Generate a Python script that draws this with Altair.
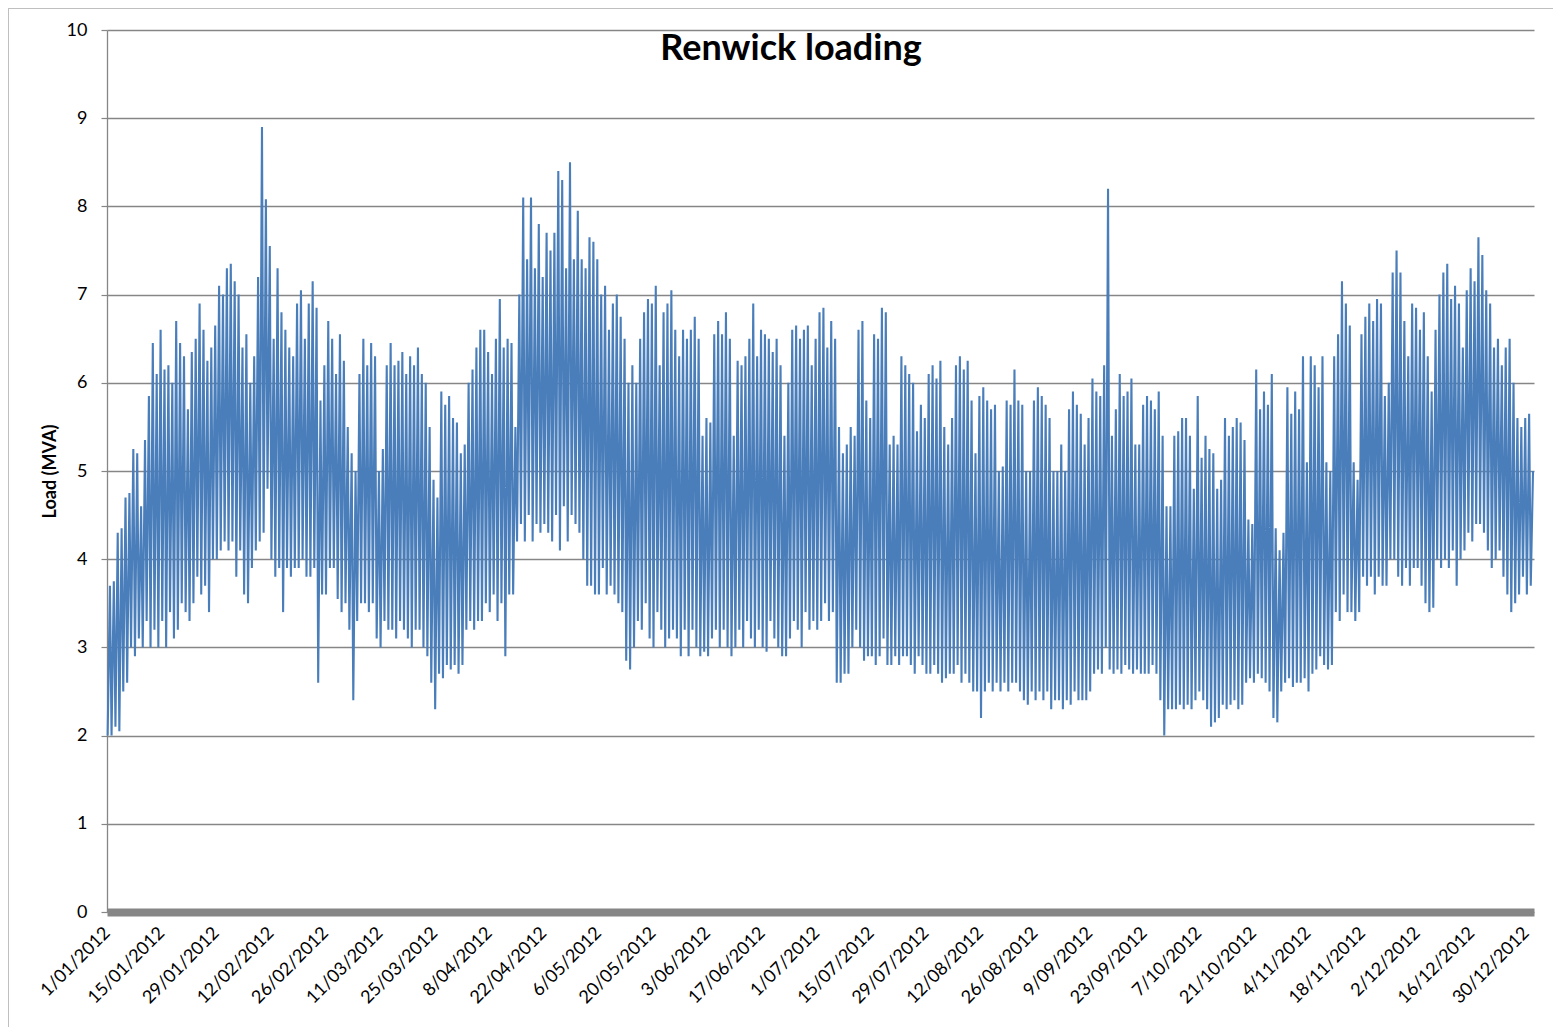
import altair as alt
import pandas as pd

# Daily evening peak load (MVA), 1 Jan 2012 .. 31 Dec 2012
daily_peak = [
    3.7, 3.75, 4.3, 4.35, 4.7, 4.75, 5.25,
    5.2, 4.6, 5.35, 5.85, 6.45, 6.1, 6.6,
    6.15, 6.2, 6.0, 6.7, 6.45, 6.3, 5.7,
    6.35, 6.5, 6.9, 6.6, 6.25, 6.4, 6.65,
    7.1, 7.0, 7.3, 7.35, 7.15, 7.0, 6.4,
    6.55, 6.0, 6.3, 7.2, 8.9, 8.08, 7.55,
    6.5, 7.3, 6.8, 6.6, 6.4, 6.3, 6.9,
    7.05, 6.5, 6.9, 7.15, 6.85, 5.8, 6.2,
    6.7, 6.5, 6.1, 6.55, 6.25, 5.5, 5.2,
    5.0, 6.1, 6.5, 6.2, 6.45, 6.3, 5.0,
    5.25, 6.2, 6.45, 6.2, 6.25, 6.35, 6.1,
    6.3, 6.2, 6.4, 6.1, 6.0, 5.5, 4.9,
    4.7, 5.9, 5.75, 5.85, 5.6, 5.55, 5.2,
    5.3, 6.0, 6.15, 6.4, 6.6, 6.6, 6.35,
    6.1, 6.5, 6.95, 6.4, 6.5, 6.45, 5.5,
    7.0, 8.1, 7.4, 8.1, 7.3, 7.8, 7.2,
    7.7, 7.5, 7.7, 8.4, 8.3, 7.3, 8.5,
    7.4, 7.95, 7.4, 7.3, 7.65, 7.6, 7.4,
    7.0, 7.1, 6.6, 6.9, 7.0, 6.75, 6.5,
    6.0, 6.2, 6.0, 6.5, 6.8, 6.95, 6.9,
    7.1, 6.2, 6.8, 6.9, 7.05, 6.6, 6.3,
    6.6, 6.5, 6.6, 6.75, 6.5, 5.4, 5.6,
    5.55, 6.55, 6.7, 6.55, 6.8, 6.5, 5.4,
    6.25, 6.2, 6.3, 6.5, 6.9, 6.3, 6.6,
    6.55, 6.5, 6.35, 6.5, 6.2, 5.4, 6.0,
    6.6, 6.65, 6.5, 6.6, 6.65, 6.2, 6.5,
    6.8, 6.85, 6.4, 6.7, 6.5, 5.5, 5.2,
    5.3, 5.5, 5.4, 6.6, 6.7, 5.8, 5.6,
    6.55, 6.5, 6.85, 6.8, 5.3, 5.4, 5.3,
    6.3, 6.2, 6.1, 6.0, 5.45, 5.75, 5.6,
    6.1, 6.2, 6.05, 6.25, 5.5, 5.3, 5.6,
    6.2, 6.3, 6.15, 6.25, 5.8, 5.2, 5.85,
    5.95, 5.8, 5.7, 5.75, 5.0, 5.05, 5.8,
    5.75, 6.15, 5.8, 5.75, 5.0, 5.0, 5.8,
    5.95, 5.85, 5.75, 5.6, 5.0, 5.0, 5.3,
    5.0, 5.7, 5.9, 5.75, 5.65, 5.3, 5.6,
    6.05, 5.9, 5.85, 6.2, 8.2, 5.4, 5.7,
    6.1, 5.85, 5.9, 6.05, 5.3, 5.3, 5.75,
    5.85, 5.8, 5.7, 5.9, 5.4, 4.6, 4.6,
    5.4, 5.45, 5.6, 5.6, 5.4, 4.8, 5.85,
    5.15, 5.4, 5.25, 5.2, 4.8, 4.9, 5.6,
    5.4, 5.5, 5.6, 5.55, 5.35, 4.45, 4.4,
    6.15, 5.7, 5.9, 5.75, 6.1, 4.35, 4.1,
    4.3, 5.95, 5.65, 5.9, 5.7, 6.3, 5.1,
    6.3, 6.2, 5.95, 6.3, 5.1, 5.0, 6.3,
    6.55, 7.15, 6.9, 6.65, 5.1, 4.9, 6.55,
    6.75, 6.9, 6.7, 6.95, 6.9, 5.85, 6.0,
    7.25, 7.5, 7.25, 6.7, 6.3, 6.9, 6.85,
    6.6, 6.8, 6.3, 5.9, 6.6, 7.0, 7.25,
    7.35, 6.95, 7.1, 6.9, 6.4, 7.05, 7.3,
    7.15, 7.65, 7.45, 7.05, 6.9, 6.4, 6.5,
    6.2, 6.4, 6.5, 6.0, 5.6, 5.5, 5.6,
    5.65, 5.0,
]

# Daily overnight trough load (MVA)
daily_trough = [
    2.0, 2.0, 2.1, 2.05, 2.5, 2.6, 3.0,
    2.9, 3.1, 3.0, 3.3, 3.0, 3.2, 3.0,
    3.3, 3.0, 3.4, 3.1, 3.2, 3.5, 3.4,
    3.3, 3.5, 3.8, 3.6, 3.7, 3.4, 4.0,
    4.0, 4.1, 4.2, 4.1, 4.2, 3.8, 4.1,
    3.6, 3.5, 3.9, 4.1, 4.2, 4.3, 4.8,
    4.0, 3.8, 3.9, 3.4, 3.9, 3.8, 3.9,
    3.9, 4.0, 3.8, 3.8, 3.9, 2.6, 3.6,
    3.6, 3.9, 3.9, 3.55, 3.4, 3.5, 3.2,
    2.4, 3.3, 3.5, 3.5, 3.4, 3.5, 3.1,
    3.0, 3.3, 3.2, 3.2, 3.1, 3.3, 3.2,
    3.1, 3.0, 3.2, 3.2, 3.0, 2.9, 2.6,
    2.3, 2.7, 2.65, 2.8, 2.75, 2.8, 2.7,
    2.8, 3.2, 3.3, 3.2, 3.3, 3.3, 3.5,
    3.4, 3.6, 3.3, 3.5, 2.9, 3.6, 3.6,
    4.2, 4.4, 4.2, 4.5, 4.2, 4.4, 4.3,
    4.4, 4.3, 4.2, 4.5, 4.1, 4.6, 4.2,
    4.5, 4.4, 4.3, 4.0, 3.7, 3.7, 3.6,
    3.6, 3.9, 3.6, 3.7, 3.6, 3.5, 3.4,
    2.85, 2.75, 3.0, 3.3, 3.2, 3.5, 3.1,
    3.0, 3.4, 3.2, 3.0, 3.1, 3.2, 3.1,
    2.9, 3.2, 2.9, 3.2, 3.0, 2.9, 2.95,
    2.9, 3.1, 3.2, 3.0, 3.2, 3.0, 2.9,
    3.0, 3.2, 3.0, 3.3, 3.1, 3.0, 3.2,
    3.0, 2.95, 3.3, 3.1, 3.0, 2.9, 2.9,
    3.1, 3.3, 3.2, 3.0, 3.4, 3.2, 3.3,
    3.2, 3.3, 3.5, 3.3, 3.4, 2.6, 2.6,
    2.7, 2.7, 3.0, 3.2, 3.0, 2.85, 2.9,
    2.9, 2.8, 2.9, 3.1, 2.8, 2.8, 2.9,
    2.8, 2.9, 2.9, 2.8, 2.7, 2.9, 2.8,
    2.7, 2.7, 2.8, 2.7, 2.6, 2.65, 2.7,
    2.7, 2.8, 2.6, 2.7, 2.6, 2.5, 2.5,
    2.2, 2.5, 2.6, 2.5, 2.6, 2.5, 2.6,
    2.5, 2.6, 2.6, 2.5, 2.4, 2.35, 2.5,
    2.4, 2.5, 2.4, 2.5, 2.3, 2.4, 2.4,
    2.3, 2.4, 2.35, 2.5, 2.4, 2.4, 2.4,
    2.5, 2.7, 2.75, 2.7, 3.0, 2.75, 2.7,
    2.75, 2.7, 2.8, 2.75, 2.7, 2.75, 2.7,
    2.7, 2.7, 2.8, 2.7, 2.4, 2.0, 2.3,
    2.3, 2.3, 2.35, 2.3, 2.35, 2.3, 2.4,
    2.5, 2.4, 2.3, 2.1, 2.15, 2.2, 2.35,
    2.3, 2.35, 2.4, 2.3, 2.35, 2.6, 2.65,
    2.6, 2.7, 2.65, 2.6, 2.5, 2.2, 2.15,
    2.5, 2.6, 2.65, 2.55, 2.6, 2.6, 2.65,
    2.5, 2.7, 2.75, 2.9, 2.8, 2.75, 2.8,
    3.4, 3.3, 3.6, 3.4, 3.4, 3.3, 3.4,
    3.8, 3.7, 3.8, 3.6, 3.8, 3.7, 3.7,
    4.0, 4.0, 3.8, 3.7, 3.9, 3.7, 3.9,
    3.9, 3.7, 3.5, 3.4, 3.45, 4.0, 3.9,
    4.0, 3.9, 4.1, 3.7, 4.0, 4.1, 4.3,
    4.2, 4.4, 4.4, 4.3, 4.1, 3.9, 4.0,
    4.1, 3.8, 3.6, 3.4, 3.5, 3.6, 3.8,
    3.6, 3.7,
]

# x-axis tick dates (every 14 days)
tick_dates = [
    (2012, 1, 1), (2012, 1, 15), (2012, 1, 29), (2012, 2, 12), (2012, 2, 26),
    (2012, 3, 11), (2012, 3, 25), (2012, 4, 8), (2012, 4, 22), (2012, 5, 6),
    (2012, 5, 20), (2012, 6, 3), (2012, 6, 17), (2012, 7, 1), (2012, 7, 15),
    (2012, 7, 29), (2012, 8, 12), (2012, 8, 26), (2012, 9, 9), (2012, 9, 23),
    (2012, 10, 7), (2012, 10, 21), (2012, 11, 4), (2012, 11, 18), (2012, 12, 2),
    (2012, 12, 16), (2012, 12, 30),
]
y_ticks = [0, 1, 2, 3, 4, 5, 6, 7, 8, 9, 10]

start = pd.Timestamp("2012-01-01")
rows = []
for i, (lo, hi) in enumerate(zip(daily_trough, daily_peak)):
    d = start + pd.Timedelta(days=i)
    rows.append({"time": (d + pd.Timedelta(hours=4)).strftime("%Y-%m-%dT%H:%M:%S"), "load": lo})
    rows.append({"time": (d + pd.Timedelta(hours=18)).strftime("%Y-%m-%dT%H:%M:%S"), "load": hi})
df = pd.DataFrame(rows)

FONT = "Lato"
GREY = "#868686"
W, H = 1427, 882

x_axis = alt.Axis(
    values=[alt.DateTime(year=y, month=m, date=d) for (y, m, d) in tick_dates],
    format="%-d/%m/%Y", formatType="time",
    labelAngle=-45, labelAlign="right", labelBaseline="middle",
    labelPadding=18, labelFont=FONT, labelFontSize=18, labelColor="#000000",
    ticks=False, grid=False, domainColor=GREY, domainWidth=8, title=None,
    labelOverlap=False, labelFlush=False,
)
y_axis = alt.Axis(
    values=y_ticks, labelFont=FONT, labelFontSize=18, labelColor="#000000",
    labelPadding=14, tickSize=6, tickColor=GREY, tickWidth=1.2,
    domainColor=GREY, domainWidth=1.3, gridColor=GREY, gridWidth=1.3,
    title="Load (MVA)", titleFont=FONT, titleFontSize=18, titleFontWeight="bold",
    titleColor="#000000", titleAngle=-90, titleX=-52, titleY=H / 2,
    titleAlign="center", titleBaseline="alphabetic",
)

line = alt.Chart(df).mark_line(color="#4a7ebb", strokeWidth=2.1).encode(
    x=alt.X("time:T", axis=x_axis,
            scale=alt.Scale(domain=[alt.DateTime(year=2012, month=1, date=1),
                                    alt.DateTime(year=2012, month=12, date=31, hours=23, minutes=59)],
                            nice=False)),
    y=alt.Y("load:Q", axis=y_axis, scale=alt.Scale(domain=[0, 10], nice=False)),
)

title = alt.Chart().mark_text(
    text="Renwick loading", font=FONT, fontSize=36, fontWeight="bold",
    color="#000000", align="center", baseline="alphabetic",
).encode(x=alt.value(684), y=alt.value(30))

border_left = alt.Chart().mark_rule(color="#bfbfbf", strokeWidth=1).encode(
    x=alt.value(-98.5), y=alt.value(-22), y2=alt.value(H + 115))
border_top = alt.Chart().mark_rule(color="#bfbfbf", strokeWidth=1).encode(
    x=alt.value(-99), x2=alt.value(W + 19), y=alt.value(-21.5))

chart = alt.layer(line, title, border_left, border_top).properties(
    width=W, height=H,
    autosize=alt.AutoSizeParams(type="none"),
    padding={"left": 99, "top": 22, "right": 19, "bottom": 115},
    background="#ffffff",
).configure_view(stroke=None)

chart.save("out.html", embed_options={"renderer": "svg", "actions": False})
